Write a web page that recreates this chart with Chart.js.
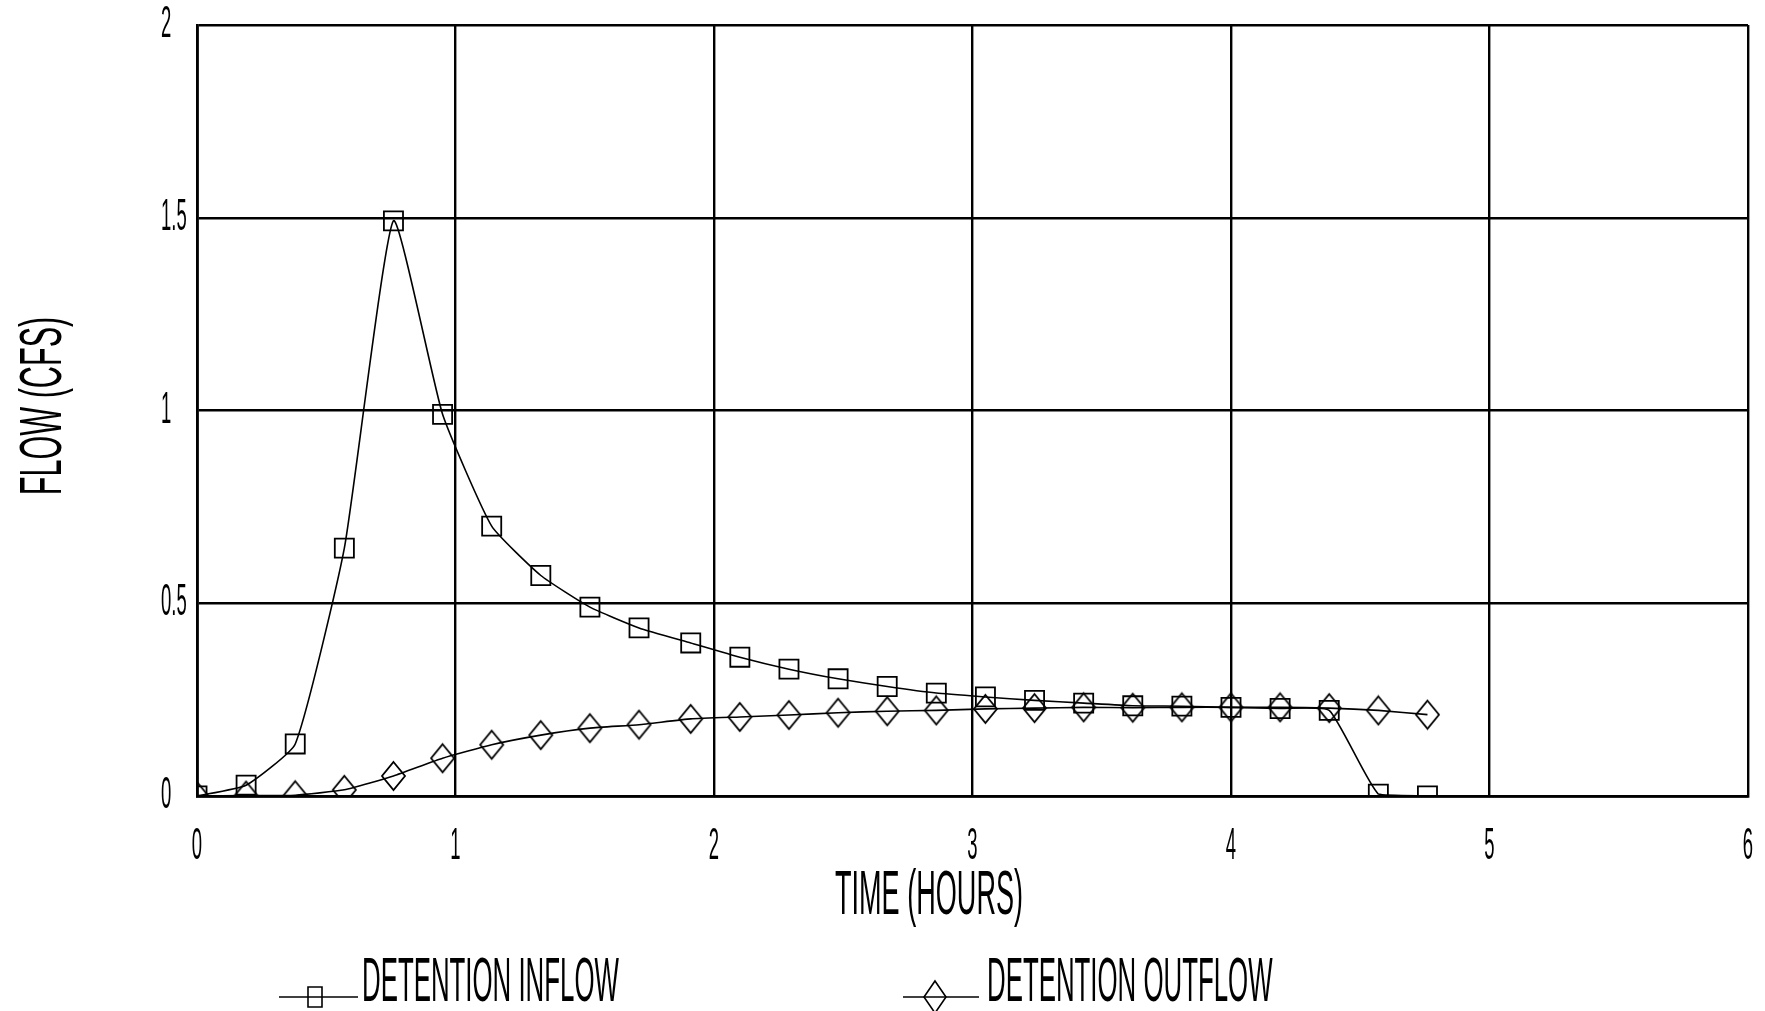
<!DOCTYPE html>
<html>
<head>
<meta charset="utf-8">
<script src="https://cdn.jsdelivr.net/npm/chart.js@4.4.1/dist/chart.umd.min.js"></script>
<style>
    html, body { margin: 0; padding: 0; background: #fff; }
    canvas { display: block; }
</style>
</head>
<body>
<canvas id="flowChart" width="1765" height="1011"></canvas>
<script>
// Hydrograph values
const timeHours = [0, 0.19, 0.38, 0.57, 0.76, 0.95, 1.14, 1.33, 1.52, 1.71, 1.91, 2.1, 2.29,
    2.48, 2.67, 2.86, 3.05, 3.24, 3.43, 3.62, 3.81, 4.0, 4.19, 4.38, 4.57, 4.76];
const inflowCfs = [0, 0.028, 0.135, 0.643, 1.492, 0.99, 0.7, 0.572, 0.49, 0.436, 0.397, 0.36, 0.329,
    0.304, 0.284, 0.267, 0.257, 0.248, 0.241, 0.234, 0.233, 0.23, 0.227, 0.222, 0.005, 0];
const outflowCfs = [0, 0.001, 0.002, 0.016, 0.052, 0.098, 0.133, 0.158, 0.176, 0.185, 0.2, 0.205, 0.21,
    0.216, 0.22, 0.222, 0.226, 0.228, 0.23, 0.229, 0.23, 0.23, 0.23, 0.228, 0.222, 0.211];
const xTickValues = [0, 1, 2, 3, 4, 5, 6];
const yTickValues = [0, 0.5, 1, 1.5, 2];
const seriesLabels = ['DETENTION INFLOW', 'DETENTION OUTFLOW'];

const canvas = document.getElementById('flowChart');
const ctx = canvas.getContext('2d');

// old plotter lettering is very narrow, so squeeze every label sideways
const rawFillText = ctx.fillText;
ctx.textSqueeze = 0.42;
ctx.fillText = function (text, x, y) {
    this.save();
    this.translate(x, y);
    this.scale(this.textSqueeze, 1);
    rawFillText.call(this, text, 0, 0);
    this.restore();
};

const toPoints = (xs, ys) => xs.map((x, i) => ({ x: x, y: ys[i] }));

// tall hollow diamond like the plotter's symbol
const makeDiamond = (w, h) => {
    const img = document.createElement('canvas');
    img.width = w + 4;
    img.height = h + 4;
    const c = img.getContext('2d');
    c.strokeStyle = '#000';
    c.lineWidth = 1.8;
    c.beginPath();
    c.moveTo(img.width / 2, 2);
    c.lineTo(img.width - 2, img.height / 2);
    c.lineTo(img.width / 2, img.height - 2);
    c.lineTo(2, img.height / 2);
    c.closePath();
    c.stroke();
    return img;
};
const diamondMark = makeDiamond(23, 28);

const drawNarrow = (c, text, x, y, size, squeeze, align, baseline) => {
    c.font = size + 'px "Liberation Sans"';
    c.textAlign = align;
    c.textBaseline = baseline;
    c.fillStyle = '#000';
    c.textSqueeze = squeeze;
    c.fillText(text, x, y);
    c.textSqueeze = 0.42;
};

const drawMarker = (c, style, x, y) => {
    c.beginPath();
    if (style === 'rect') {
        c.rect(x - 7, y - 10, 14, 20);
    } else {
        c.moveTo(x, y - 16);
        c.lineTo(x + 11, y);
        c.lineTo(x, y + 16);
        c.lineTo(x - 11, y);
        c.closePath();
    }
    c.stroke();
};

// axis titles + legend, placed where the original plotter put them
const decorations = {
    id: 'decorations',
    afterDraw(chart) {
        const c = chart.ctx;
        c.save();
        c.translate(44, 406);
        c.rotate(-Math.PI / 2);
        drawNarrow(c, 'FLOW (CFS)', 0, 0, 60, 0.51, 'center', 'middle');
        c.restore();

        c.save();
        drawNarrow(c, 'TIME (HOURS)', 929, 914, 63, 0.43, 'center', 'alphabetic');

        const items = [
            { line: [279, 358], mark: 315, text: 362, style: 'rect' },
            { line: [903, 979], mark: 935, text: 987, style: 'diamond' },
        ];
        c.strokeStyle = '#000';
        c.lineWidth = 1.6;
        items.forEach((it, i) => {
            c.beginPath();
            c.moveTo(it.line[0], 997);
            c.lineTo(it.line[1], 997);
            c.stroke();
            drawMarker(c, it.style, it.mark, 997);
            drawNarrow(c, seriesLabels[i], it.text, 1001, 63, 0.41, 'left', 'alphabetic');
        });
        c.restore();
    },
};

const flowChart = new Chart(ctx, {
    type: 'line',
    data: {
        datasets: [
            {
                label: seriesLabels[0],
                data: toPoints(timeHours, inflowCfs),
                borderColor: '#000',
                borderWidth: 1.6,
                backgroundColor: 'rgba(0,0,0,0)',
                pointStyle: 'rect',
                pointRadius: 13.5,
                pointBorderWidth: 1.8,
                pointBorderColor: '#000',
                pointBackgroundColor: 'rgba(0,0,0,0)',
                tension: 0.15,
            },
            {
                label: seriesLabels[1],
                data: toPoints(timeHours, outflowCfs),
                borderColor: '#000',
                borderWidth: 1.6,
                backgroundColor: 'rgba(0,0,0,0)',
                pointStyle: diamondMark,
                pointRadius: 13,
                tension: 0.15,
            },
        ],
    },
    options: {
        responsive: false,
        animation: false,
        layout: {
            padding: { left: 161, right: 17, top: 20, bottom: 0 },
        },
        plugins: {
            legend: { display: false },
            tooltip: { enabled: false },
        },
        scales: {
            x: {
                type: 'linear',
                min: 0,
                max: 6,
                afterBuildTicks: (scale) => { scale.ticks = xTickValues.map(v => ({ value: v })); },
                afterFit: (scale) => {
                    scale.height = 215;
                    scale.paddingLeft = 0;
                    scale.paddingRight = 0;
                },
                ticks: {
                    color: '#000',
                    padding: 29,
                    font: { family: '"Liberation Sans"', size: 44, lineHeight: 1 },
                },
                grid: { color: '#000', lineWidth: 2.4, drawTicks: false },
                border: { color: '#000', width: 2.8 },
            },
            y: {
                min: 0,
                max: 2,
                afterBuildTicks: (scale) => { scale.ticks = yTickValues.map(v => ({ value: v })); },
                afterFit: (scale) => { scale.width = 36; },
                ticks: {
                    color: '#000',
                    crossAlign: 'far',
                    callback: (value) => String(value),
                    font: { family: '"Liberation Sans"', size: 44, lineHeight: 1 },
                },
                grid: { color: '#000', lineWidth: 2.4, drawTicks: false },
                border: { color: '#000', width: 2.8 },
            },
        },
    },
    plugins: [decorations],
});
</script>
</body>
</html>
